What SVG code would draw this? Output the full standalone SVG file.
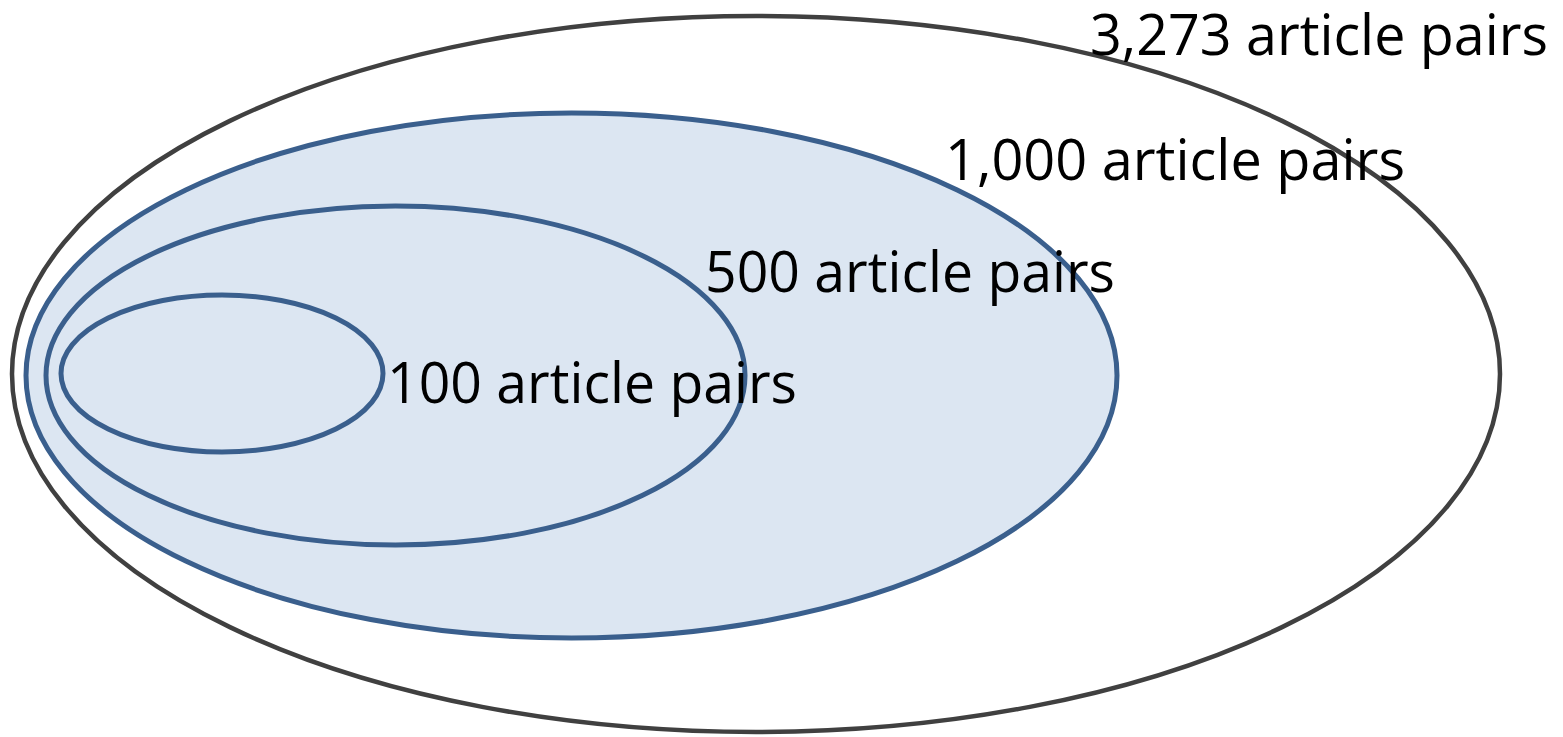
<svg xmlns="http://www.w3.org/2000/svg" width="1563" height="737" viewBox="0 0 1563 737">
<style>
.outer{fill:#ffffff;stroke:#404040;stroke-width:4.5}
.set{fill:#dce6f2;stroke:#3a5f8d;stroke-width:5}
.lbl{font-family:"Open Sans","Liberation Sans",sans-serif;font-size:56px;fill:#000}
</style>
<rect width="1563" height="737" fill="#ffffff"/>
<g id="n3273"><ellipse class="outer" cx="756" cy="374" rx="744" ry="358"/></g>
<g id="n1000"><ellipse class="set" cx="571.5" cy="375.5" rx="545.5" ry="262.5"/></g>
<g id="n500"><ellipse class="set" cx="395.5" cy="375.5" rx="349.5" ry="169.5"/></g>
<g id="n100"><ellipse class="set" cx="222" cy="373.5" rx="161" ry="78.5"/></g>
<g id="connectors"></g>
<g id="labels">
<text class="lbl" x="1090" y="55" textLength="458" lengthAdjust="spacingAndGlyphs">3,273 article pairs</text>
<text class="lbl" x="945" y="180" textLength="460" lengthAdjust="spacingAndGlyphs">1,000 article pairs</text>
<text class="lbl" x="705" y="292" textLength="410" lengthAdjust="spacingAndGlyphs">500 article pairs</text>
<text class="lbl" x="387" y="403" textLength="410" lengthAdjust="spacingAndGlyphs">100 article pairs</text>
</g>
</svg>
